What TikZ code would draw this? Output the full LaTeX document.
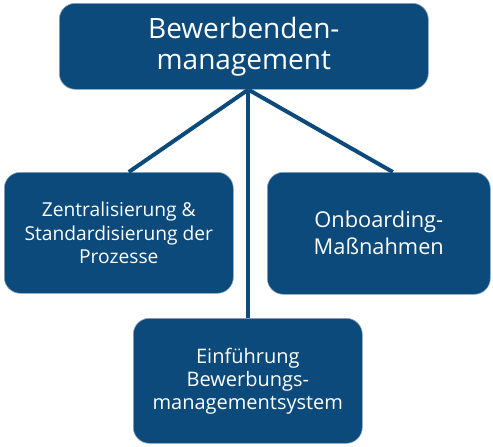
\documentclass[tikz,border=0pt]{standalone}
\usepackage{fontspec}
\setmainfont{Open Sans}
\usetikzlibrary{positioning, calc}
\definecolor{boxblue}{HTML}{0B4A7A}
\definecolor{boxedge}{HTML}{8FA7BD}

\begin{document}
\begin{tikzpicture}[x=1pt, y=-1pt,
    box/.style={fill=boxblue, draw=boxedge, line width=0.6pt, rounded corners=16pt,
      text=white, align=center, inner sep=0pt, anchor=north west},
    link/.style={draw=boxblue, line width=4pt}]
    \useasboundingbox (0,0) rectangle (493,447);
    % Boxes
    \node[box, minimum width=369pt, minimum height=86pt, font=\fontsize{28}{31}\selectfont]
      (top) at (59,3) {Bewerbenden-\\management};
    \node[box, minimum width=229pt, minimum height=121pt, font=\fontsize{19.2}{23.5}\selectfont]
      (zentral) at (4,172) {Zentralisierung \&\\Standardisierung der\\Prozesse};
    \node[box, minimum width=223pt, minimum height=122pt, font=\fontsize{21.8}{27}\selectfont]
      (onboard) at (267,172) {Onboarding-\\Maßnahmen};
    \node[box, minimum width=229pt, minimum height=125pt, font=\fontsize{20}{23}\selectfont]
      (einfuehr) at (133,318) {Einführung\\Bewerbungs-\\managementsystem};
    % Connectors
    \coordinate (hub) at ([xshift=4.5pt]top.south);
    \draw[link] (hub) -- ([xshift=10pt]zentral.north);
    \draw[link] (hub) -- ([xshift=14pt]onboard.north);
    \draw[link] (hub) -- (hub |- einfuehr.north);
\end{tikzpicture}
\end{document}
